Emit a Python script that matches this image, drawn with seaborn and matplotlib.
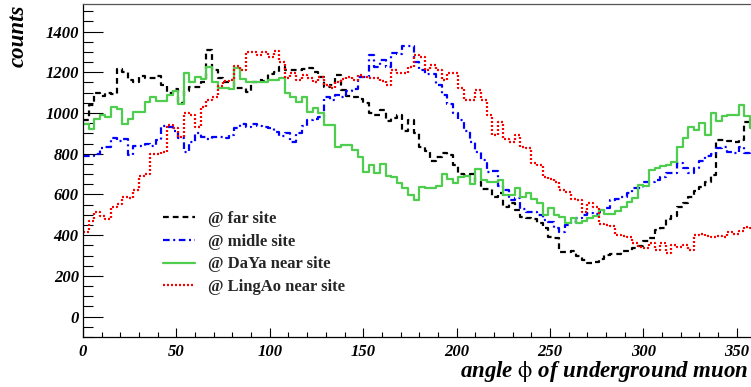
import numpy as np
import pandas as pd
import matplotlib
matplotlib.use("Agg")
import matplotlib.pyplot as plt
import seaborn as sns
from matplotlib.ticker import MultipleLocator
from matplotlib.lines import Line2D

# ---- data: 120 bins of 3 degrees ----
bin_edges = list(range(0, 363, 3))

far_site = [965, 1040, 1097, 1085, 1100, 1095, 1215, 1204, 1160, 1150,
            1180, 1172, 1172, 1180, 1140, 1100, 1120, 1048, 1110, 1130,
            1130, 1150, 1310, 1210, 1170, 1154, 1150, 1122, 1125, 1105,
            1150, 1160, 1155, 1190, 1204, 1228, 1210, 1210, 1212, 1215,
            1222, 1204, 1178, 1130, 1140, 1185, 1115, 1085, 1080, 1070,
            1050, 1002, 991, 1015, 963, 975, 991, 914, 966, 904,
            832, 815, 766, 783, 803, 795, 745, 701, 696, 701,
            663, 626, 626, 587, 606, 540, 560, 524, 491, 483,
            478, 459, 434, 393, 385, 319, 319, 323, 300, 278,
            262, 268, 282, 303, 308, 310, 323, 323, 336, 347,
            373, 385, 426, 434, 478, 495, 540, 560, 590, 615,
            635, 660, 696, 868, 870, 865, 860, 870, 955, 950]

midle_site = [790, 790, 800, 827, 835, 876, 865, 871, 794, 838,
              838, 848, 838, 868, 937, 931, 914, 876, 811, 860,
              900, 880, 871, 884, 884, 876, 893, 925, 947, 930,
              947, 937, 930, 925, 909, 887, 904, 860, 901, 937,
              966, 970, 982, 1078, 1064, 1089, 1078, 1110, 1120, 1179,
              1176, 1286, 1228, 1262, 1225, 1294, 1290, 1330, 1330, 1250,
              1210, 1194, 1190, 1140, 1090, 1045, 1000, 965, 910, 860,
              811, 770, 712, 715, 642, 622, 573, 581, 527, 516,
              516, 499, 475, 467, 434, 418, 450, 467, 483, 499,
              511, 505, 516, 532, 573, 580, 590, 609, 631, 631,
              663, 663, 671, 685, 704, 704, 753, 729, 704, 729,
              766, 789, 799, 827, 835, 810, 803, 835, 803, 820]

daya_near = [946, 920, 971, 991, 982, 1028, 1018, 946, 971, 1007,
             1007, 1056, 1081, 1060, 1060, 1089, 1110, 1045, 1199, 1154,
             1179, 1166, 1228, 1154, 1122, 1122, 1120, 1220, 1166, 1154,
             1154, 1154, 1154, 1160, 1160, 1171, 1097, 1078, 1056, 1078,
             1007, 1024, 999, 942, 942, 832, 843, 843, 820, 785,
             710, 745, 707, 750, 692, 688, 655, 631, 598, 573,
             639, 631, 631, 643, 701, 675, 658, 688, 690, 650,
             724, 671, 663, 663, 671, 598, 598, 631, 589, 606,
             577, 557, 500, 532, 500, 491, 459, 483, 459, 472,
             483, 495, 524, 504, 504, 520, 540, 565, 581, 647,
             642, 720, 729, 740, 745, 761, 835, 876, 933, 917,
             950, 892, 1002, 963, 986, 991, 991, 1040, 983, 925]

lingao_near = [415, 470, 515, 495, 478, 540, 552, 590, 582, 622,
               690, 702, 800, 800, 810, 942, 925, 884, 999, 991,
               930, 1032, 1065, 1081, 1135, 1155, 1160, 1232, 1212, 1298,
               1302, 1286, 1302, 1277, 1306, 1253, 1171, 1195, 1163, 1187,
               1171, 1154, 1176, 1138, 1122, 1154, 1167, 1176, 1163, 1187,
               1176, 1171, 1171, 1159, 1138, 1212, 1195, 1195, 1228, 1286,
               1277, 1212, 1236, 1212, 1163, 1195, 1195, 1122, 1064, 1064,
               1113, 1064, 991, 892, 958, 871, 860, 892, 835, 827,
               753, 745, 684, 674, 663, 622, 614, 577, 573, 516,
               557, 540, 455, 450, 446, 401, 396, 393, 360, 344,
               336, 360, 327, 360, 311, 352, 344, 352, 327, 401,
               406, 396, 393, 396, 393, 418, 406, 423, 442, 434]

labels = ["@ far site", "@ midle site", "@ DaYa near site", "@ LingAo near site"]
xlabel = r"angle $\mathrm{\phi}$ of underground muon"
ylabel = "counts"

# ---- styling ----
sns.set_theme(style="ticks")
plt.rcParams['font.family'] = ['Liberation Serif', 'DejaVu Serif']
plt.rcParams['mathtext.fontset'] = 'stix'

fig = plt.figure(figsize=(7.51, 3.87), dpi=100)
ax = fig.add_axes([83 / 751, 50 / 387, 672.5 / 751, 333.5 / 387])

centers = [(a + b) / 2 for a, b in zip(bin_edges[:-1], bin_edges[1:])]

styles = [
    dict(color="black", linestyle=(0, (2.6, 1.8)), linewidth=1.6),
    dict(color="#0000ff", linestyle=(0, (3.0, 1.6, 0.9, 1.6)), linewidth=1.6),
    dict(color="#4fcd4f", linestyle="-", linewidth=1.6),
    dict(color="#ff0000", linestyle=(0, (0.9, 0.9)), linewidth=1.6),
]
series = [far_site, midle_site, daya_near, lingao_near]

for vals, st in zip(series, styles):
    df = pd.DataFrame({"angle": centers, "counts": vals})
    sns.histplot(data=df, x="angle", weights="counts", bins=bin_edges,
                 element="step", fill=False, ax=ax, **st)

ax.set_xlim(0, 360)
ax.set_ylim(-100, 1538)
ax.set_xlabel("")
ax.set_ylabel("")

ax.xaxis.set_major_locator(MultipleLocator(50))
ax.xaxis.set_minor_locator(MultipleLocator(10))
ax.yaxis.set_major_locator(MultipleLocator(200))
ax.yaxis.set_minor_locator(MultipleLocator(50))

ax.tick_params(axis="y", which="major", direction="in", length=14.5, width=0.8, pad=3, color="black")
ax.tick_params(axis="y", which="minor", direction="in", length=7.2, width=0.8, color="black")
ax.tick_params(axis="x", which="major", direction="in", length=6.5, width=0.8, pad=5, color="black")
ax.tick_params(axis="x", which="minor", direction="in", length=3.4, width=0.8, color="black")
ax.tick_params(top=False, right=False)

for lab in ax.get_xticklabels() + ax.get_yticklabels():
    lab.set_fontsize(12)
    lab.set_fontweight("bold")
    lab.set_fontstyle("italic")
    lab.set_color("black")

for s in ["left", "bottom"]:
    ax.spines[s].set_color("black")
    ax.spines[s].set_linewidth(0.9)
ax.spines["top"].set_color("#555555")
ax.spines["top"].set_linewidth(0.9)
ax.spines["right"].set_visible(False)
ax.grid(False)

handles = [Line2D([0], [0], **st) for st in styles]
leg = ax.legend(handles, labels, loc="center left",
                bbox_to_anchor=(163 / 751, (387 - 253) / 387),
                bbox_transform=fig.transFigure, frameon=False,
                handlelength=1.92, handletextpad=0.78, labelspacing=0.40,
                borderpad=0, borderaxespad=0,
                prop=dict(family="Liberation Serif", weight="bold", size=12))

fig.text(748 / 751, (387 - 372) / 387, xlabel, ha="right", va="center",
         fontsize=16.5, fontweight="bold", fontstyle="italic", color="black")
fig.text(18 / 751, 1 - 5 / 387, ylabel, ha="center", va="top", rotation=90,
         fontsize=16.5, fontweight="bold", fontstyle="italic", color="black")

fig.savefig("out.png", dpi=100)
